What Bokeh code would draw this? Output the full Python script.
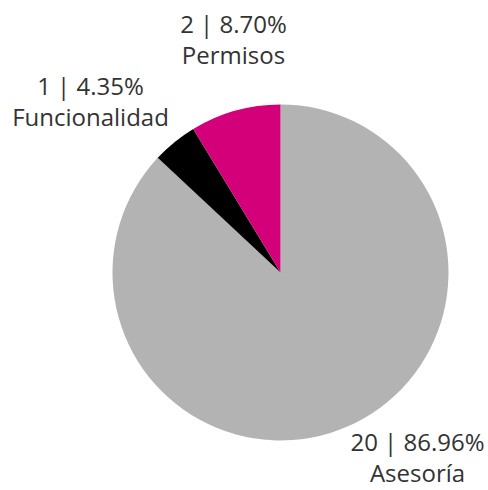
import math
from bokeh.plotting import figure
from bokeh.models import Range1d, ColumnDataSource
from bokeh.core.properties import value
from bokeh.embed import file_html
from bokeh.resources import INLINE

# Data
categories = ["Asesoría", "Funcionalidad", "Permisos"]
counts = [20, 1, 2]
colors = ["#b3b3b3", "#000000", "#d4007a"]

total = sum(counts)
starts, ends, pcts = [], [], []
cum = 0.0
for c in counts:
    starts.append(math.pi / 2 - 2 * math.pi * cum / total)
    cum += c
    ends.append(math.pi / 2 - 2 * math.pi * cum / total)
    pcts.append(100.0 * c / total)

src = ColumnDataSource(dict(cat=categories, count=counts, start=starts, end=ends, color=colors))

W, H = 488, 490
p = figure(width=W, height=H, output_backend="svg", toolbar_location=None,
           x_range=Range1d(0, W), y_range=Range1d(0, H),
           min_border=0, outline_line_color=None)
p.axis.visible = False
p.grid.visible = False
p.background_fill_color = "white"
p.border_fill_color = "white"

# pie centre / radius in picture pixels (y flipped)
cx, cy, r = 280, H - 272, 168
p.wedge(x=cx, y=cy, radius=r, start_angle="start", end_angle="end",
        direction="clock", fill_color="color", line_color=None, source=src)

# label placement (picture px: centre x, anchor of first line)
label_pos = {"Asesoría": (417, 441), "Funcionalidad": (90, 85), "Permisos": (233, 23)}
lx, ly1, ly2, t1, t2 = [], [], [], [], []
for cat, c, pc in zip(categories, counts, pcts):
    x, b = label_pos[cat]
    lx.append(x)
    ly1.append(H - b)
    ly2.append(H - (b + 31))
    t1.append(f"{c} | {pc:.2f}%")
    t2.append(cat)

lsrc = ColumnDataSource(dict(x=lx, y1=ly1, y2=ly2, t1=t1, t2=t2))
for ycol, tcol in (("y1", "t1"), ("y2", "t2")):
    p.text(x="x", y=ycol, text=tcol, source=lsrc, text_align="center",
           text_baseline="alphabetic", text_font=value("Open Sans"),
           text_font_size="24px", text_color="#333333")

open("out.html", "w").write(file_html(p, INLINE))
